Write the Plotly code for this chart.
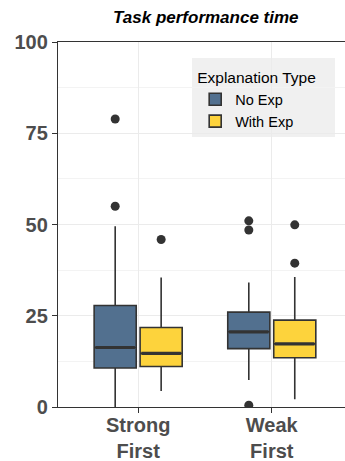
import plotly.graph_objects as go

# Conditions on the x axis and explanation groups
categories = ["Strong<br>First", "Weak<br>First"]
groups = ["No Exp", "With Exp"]
colors = ["#52708F", "#FDD33C"]

# Box statistics per group (one value per condition)
q1 = {"No Exp": [10.7, 16.0], "With Exp": [11.1, 13.5]}
median = {"No Exp": [16.3, 20.6], "With Exp": [14.7, 17.3]}
q3 = {"No Exp": [27.8, 26.0], "With Exp": [21.8, 23.8]}
lower = {"No Exp": [0.0, 7.4], "With Exp": [4.4, 2.1]}
upper = {"No Exp": [49.5, 34.1], "With Exp": [35.5, 35.6]}
outliers = {
    "No Exp": [[55.0, 78.9], [0.5, 48.5, 51.0]],
    "With Exp": [[45.9], [39.4, 49.9]],
}

y_ticks = [0, 25, 50, 75, 100]

# Layout geometry (in axis units)
cat_pos = [1, 2]
dodge = 0.172
box_w = 0.315
offsets = {"No Exp": -dodge, "With Exp": dodge}

EDGE = "#333333"
FONT = "Liberation Sans"

fig = go.Figure()

for g, col in zip(groups, colors):
    xs = [p + offsets[g] for p in cat_pos]
    fig.add_trace(go.Box(
        name=g, x=xs, q1=q1[g], median=median[g], q3=q3[g],
        lowerfence=lower[g], upperfence=upper[g],
        width=box_w, fillcolor=col, line=dict(color=EDGE, width=1.6),
        whiskerwidth=0, boxpoints=False, legendgroup=g,
        hoverinfo="skip",
    ))

# Thicker median bars and outlier points
for g in groups:
    for i, p in enumerate(cat_pos):
        xc = p + offsets[g]
        fig.add_trace(go.Scatter(
            x=[xc - box_w / 2 + 0.01, xc + box_w / 2 - 0.01],
            y=[median[g][i], median[g][i]],
            mode="lines", line=dict(color=EDGE, width=3.2),
            showlegend=False, hoverinfo="skip", cliponaxis=False,
        ))
        fig.add_trace(go.Scatter(
            x=[xc] * len(outliers[g][i]), y=outliers[g][i],
            mode="markers", marker=dict(color=EDGE, size=9),
            showlegend=False, hoverinfo="skip",
        ))

# Grey panel behind the legend (covers the grid, sits below the boxes)
fig.add_shape(
    type="rect", xref="paper", yref="paper",
    x0=0.467, x1=0.965, y0=0.740, y1=0.956,
    fillcolor="#F0F0F0", line=dict(width=0), layer="between",
)

fig.update_layout(
    width=345, height=461,
    margin=dict(l=58, r=0, t=42, b=54),
    paper_bgcolor="white", plot_bgcolor="white",
    font=dict(family=FONT, color="#000000"),
    title=dict(
        text="<b><i>Task performance time</i></b>",
        font=dict(family=FONT, size=17, color="#000000"),
        x=0.515, xref="paper", xanchor="center",
        y=1 - 17 / 461, yref="container", yanchor="middle",
    ),
    showlegend=True,
    legend=dict(
        title=dict(text="Explanation Type", font=dict(size=15.5, color="#000000")),
        font=dict(size=14.5, color="#000000"),
        bgcolor="rgba(0,0,0,0)", borderwidth=0,
        x=0.478, xanchor="left", y=0.942, yanchor="top",
        tracegroupgap=0, itemwidth=30,
    ),
    xaxis=dict(
        range=[0.4, 2.548], tickvals=cat_pos, ticktext=categories,
        tickfont=dict(family=FONT, size=20, color="#4D4D4D", weight="bold"),
        showline=True, linecolor=EDGE, linewidth=1.3, mirror=True,
        ticks="outside", ticklen=5, tickcolor=EDGE, tickwidth=1.3,
        ticklabelstandoff=-5,
        showgrid=True, gridcolor="#EBEBEB", gridwidth=1.2, zeroline=False,
        automargin=False,
    ),
    yaxis=dict(
        range=[0, 100], tickvals=y_ticks,
        tickfont=dict(family=FONT, size=20, color="#4D4D4D", weight="bold"),
        showline=True, linecolor=EDGE, linewidth=1.3,
        ticks="outside", ticklen=5, tickcolor=EDGE, tickwidth=1.3,
        showgrid=True, gridcolor="#EBEBEB", gridwidth=1.2, zeroline=False,
        automargin=False,
        minor=dict(tick0=12.5, dtick=25, showgrid=True,
                   gridcolor="#F3F3F3", gridwidth=0.8, ticks=""),
    ),
)

fig.write_html("out.html")
